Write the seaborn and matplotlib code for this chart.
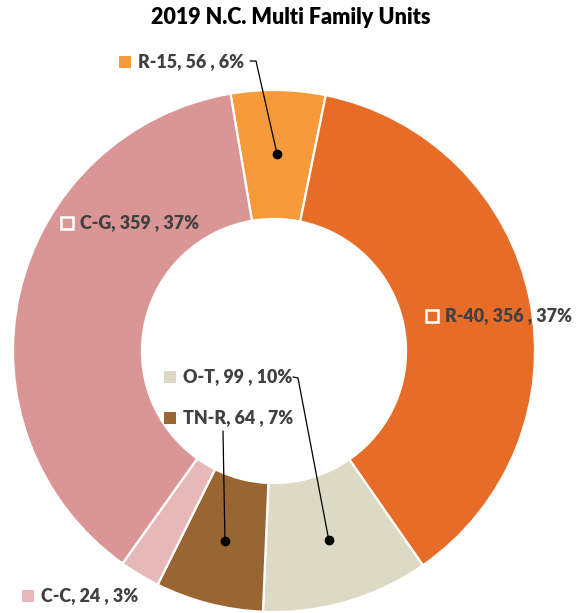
import numpy as np
import matplotlib
matplotlib.use("Agg")
import matplotlib.pyplot as plt
import seaborn as sns

sns.set_theme(style="white")
plt.rcParams["font.family"] = ["Lato", "DejaVu Sans"]

# Multi-family units by zoning district, clockwise from the top
districts = ["R-15", "R-40", "O-T", "TN-R", "C-C", "C-G"]
units = [56, 356, 99, 64, 24, 359]
colors = ["#F79A3A", "#E66C28", "#DDD9C4", "#996633", "#E6B9B8", "#D99694"]

total = sum(units)
percents = [round(u / total * 100) for u in units]

# Pixel-based layout helpers (center and radius of the ring)
CX, CY, R = 274, 351, 261
W, H = 582, 613


def d(px, py):
    return (px - CX) / R, (CY - py) / R


fig = plt.figure(figsize=(W / 100, H / 100), dpi=100)
ax = fig.add_axes([0, 0, 1, 1])

wedges, _ = ax.pie(
    units,
    colors=colors,
    startangle=99.6,
    counterclock=False,
    radius=1.0,
    wedgeprops=dict(width=0.494, edgecolor="white", linewidth=1.6),
)

ax.set_xlim(d(0, 0)[0], d(W, 0)[0])
ax.set_ylim(d(0, H)[1], d(0, 0)[1])
ax.set_aspect("auto")
ax.axis("off")

# label anchor: marker position in pixels; inside labels get white-edged markers
label_px = {
    "R-15": (125, 62),
    "R-40": (432, 316),
    "O-T": (170, 377),
    "TN-R": (170, 418),
    "C-C": (28, 596),
    "C-G": (67, 223),
}
inside = {"R-40", "C-G"}

text_color = "#404040"
for name, u, p, col in zip(districts, units, percents, colors):
    mx, my = d(*label_px[name])
    if name in inside:
        ax.plot(mx, my, marker="s", markersize=8, markerfacecolor=col,
                markeredgecolor="white", markeredgewidth=1.8, clip_on=False)
    else:
        ax.plot(mx, my, marker="s", markersize=8, markerfacecolor=col,
                markeredgecolor=col, markeredgewidth=0, clip_on=False)
    ax.text(mx + 13 / R, my, f"{name}, {u} , {p}%", ha="left", va="center",
            fontsize=12.9, fontweight="heavy", color=text_color, clip_on=False)

# leader lines from outside labels to the middle of their wedges
leaders = {
    "R-15": [(250, 61), (256, 61)],
    "O-T": [(293, 377), (298, 378)],
    "TN-R": [(223, 431)],
}
ring_mid = 1.0 - 0.494 / 2
for w, name in zip(wedges, districts):
    if name not in leaders:
        continue
    ang = np.deg2rad((w.theta1 + w.theta2) / 2)
    tx, ty = ring_mid * np.cos(ang), ring_mid * np.sin(ang)
    pts = [d(*p) for p in leaders[name]] + [(tx, ty)]
    xs, ys = zip(*pts)
    ax.plot(xs, ys, color="black", linewidth=0.9, clip_on=False)
    ax.plot(tx, ty, "o", color="black", markersize=6)

fig.text(291 / W, 1 - 18 / H, "2019 N.C. Multi Family Units", ha="center",
         va="center", fontsize=15.5, fontweight="heavy", color="black")

fig.savefig("out.png", dpi=100, facecolor="white")
